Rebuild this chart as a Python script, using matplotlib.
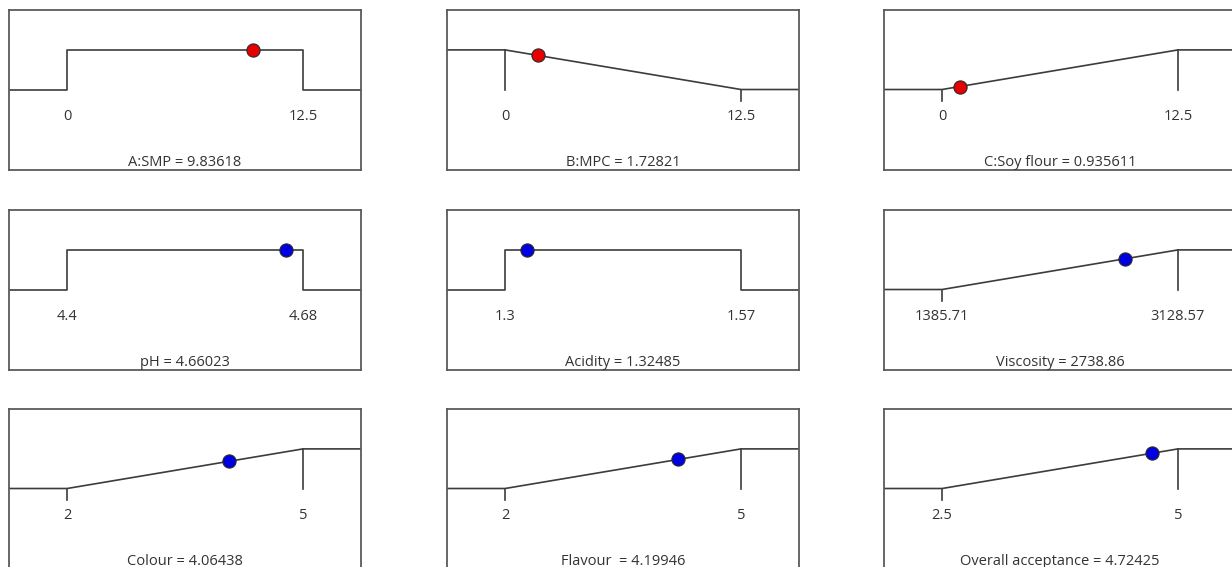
import matplotlib.pyplot as plt

plt.rcParams['font.family'] = ['Open Sans', 'DejaVu Sans']

# desirability ramps (Design-Expert style)
names = ["A:SMP", "B:MPC", "C:Soy flour",
         "pH", "Acidity", "Viscosity",
         "Colour", "Flavour ", "Overall acceptance"]
values = [9.83618, 1.72821, 0.935611,
          4.66023, 1.32485, 2738.86,
          4.06438, 4.19946, 4.72425]
low_limits = [0, 0, 0, 4.4, 1.3, 1385.71, 2, 2, 2.5]
high_limits = [12.5, 12.5, 12.5, 4.68, 1.57, 3128.57, 5, 5, 5]
low_labels = ["0", "0", "0", "4.4", "1.3", "1385.71", "2", "2", "2.5"]
high_labels = ["12.5", "12.5", "12.5", "4.68", "1.57", "3128.57", "5", "5", "5"]
goals = ["range", "minimize", "maximize",
         "range", "range", "maximize",
         "maximize", "maximize", "maximize"]
is_factor = [True, True, True, False, False, False, False, False, False]

W, H = 1232, 567
fig = plt.figure(figsize=(W / 100, H / 100), dpi=100)

col_left = [9, 447, 884]
row_top = [10.3, 210.3, 409.3]
box_w, box_h = 352, 160

line_col = '#3c3c3c'
tick_len = 0.3

for i in range(9):
    r, c = divmod(i, 3)
    ax = fig.add_axes([col_left[c] / W, 1 - (row_top[r] + box_h) / H, box_w / W, box_h / H])
    lo, hi = low_limits[i], high_limits[i]
    span = hi - lo
    x0, x1 = lo - 0.246 * span, hi + 0.246 * span
    g = goals[i]
    if g == "range":
        xs = [x0, lo, lo, hi, hi, x1]
        ys = [0, 0, 1, 1, 0, 0]
        yv = 1
    elif g == "maximize":
        xs = [x0, lo, hi, x1]
        ys = [0, 0, 1, 1]
        yv = (values[i] - lo) / span
        ax.plot([lo, lo], [0, -tick_len], color=line_col, lw=1.2)
        ax.plot([hi, hi], [1, 0], color=line_col, lw=1.2)
    else:
        xs = [x0, lo, hi, x1]
        ys = [1, 1, 0, 0]
        yv = (hi - values[i]) / span
        ax.plot([lo, lo], [1, 0], color=line_col, lw=1.2)
        ax.plot([hi, hi], [0, -tick_len], color=line_col, lw=1.2)
    ax.plot(xs, ys, color=line_col, lw=1.2)
    mc = '#e60000' if is_factor[i] else '#0000e0'
    ax.plot(values[i], yv, 'o', ms=9.5, mfc=mc, mec='#2a2a2a', mew=0.8, zorder=5)

    ax.text(lo, -0.76, low_labels[i], ha='center', va='baseline', fontsize=10.5, color='#333333')
    ax.text(hi, -0.76, high_labels[i], ha='center', va='baseline', fontsize=10.5, color='#333333')
    ax.text((x0 + x1) / 2, -1.93, f"{names[i]} = {values[i]}", ha='center', va='baseline',
            fontsize=10.5, color='#333333')

    ax.set_xlim(x0, x1)
    ax.set_ylim(-2.04, 2.0)
    ax.set_xticks([])
    ax.set_yticks([])
    for s in ax.spines.values():
        s.set_color('#5a5a5a')
        s.set_linewidth(1.3)

fig.savefig('out.png', dpi=100)
